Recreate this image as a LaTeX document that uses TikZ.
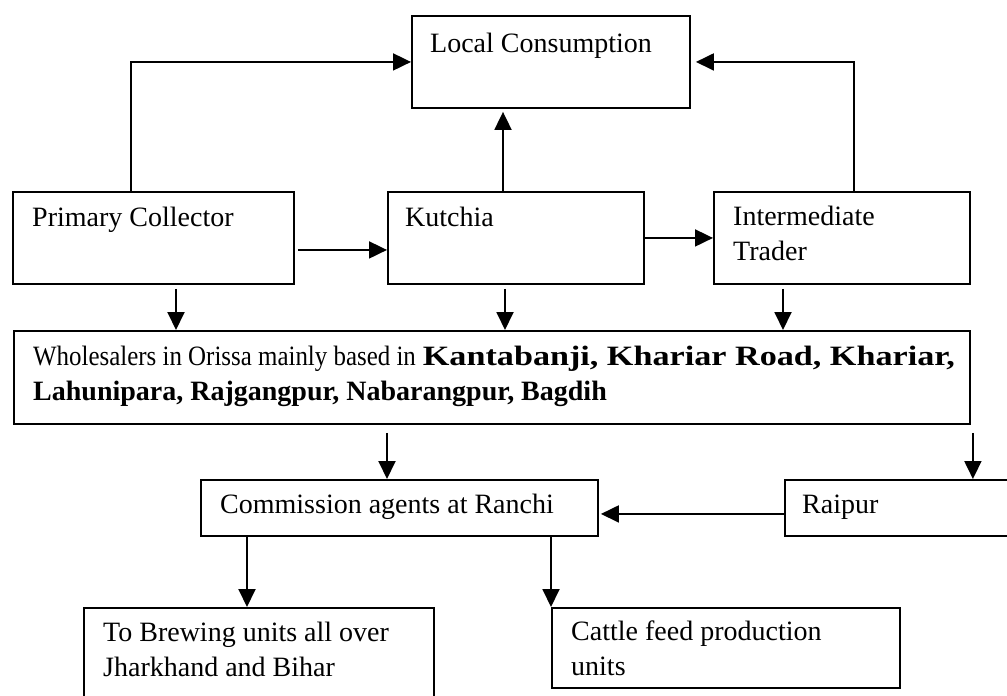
\documentclass[tikz,border=0pt]{standalone}
\usepackage{fontspec}
\setmainfont{Liberation Serif}
\usetikzlibrary{arrows.meta}

\begin{document}
\begin{tikzpicture}
      [ x = 1pt, y = -1pt
      , stage/.style =
        { draw, line width = 1.9pt, inner sep = 0pt, anchor = north west }
      , caption/.style =
        { anchor = base west, inner sep = 0pt, align = left
        , font = \fontsize{28}{35}\selectfont }
      , flow/.style =
        { line width = 1.9pt, -{Triangle[length = 18pt, width = 17pt]} }
      ]
      \useasboundingbox (0, 0) rectangle (1007, 696);
      % boxes
      \node [stage, minimum width = 278pt, minimum height = 92pt] (local) at (411, 15) {};
      \node [stage, minimum width = 281pt, minimum height = 92pt] (primary) at (12, 191) {};
      \node [stage, minimum width = 256pt, minimum height = 92pt] (kutchia) at (387, 191) {};
      \node [stage, minimum width = 256pt, minimum height = 92pt] (trader) at (713, 191) {};
      \node [stage, minimum width = 956pt, minimum height = 93pt] (whole) at (13, 330) {};
      \node [stage, minimum width = 397pt, minimum height = 56pt] (agents) at (200, 479) {};
      \node [stage, minimum width = 260pt, minimum height = 56pt] (raipur) at (784, 479) {};
      \node [stage, minimum width = 350pt, minimum height = 100pt] (brew) at (83, 607) {};
      \node [stage, minimum width = 348pt, minimum height = 80pt] (cattle) at (551, 607) {};
      % texts (base = last line)
      \node [caption] (local-t) at (430, 52) {Local Consumption};
      \node [caption] (primary-t) at (32, 226) {Primary Collector};
      \node [caption] (kutchia-t) at (405, 226) {Kutchia};
      \node [caption] (trader-t) at (733, 260) {Intermediate\\Trader};
      \node [caption] (whole-t) at (33, 400)
        {\scalebox{0.89}[1]{Wholesalers in Orissa mainly based in} \scalebox{1.22}[1]{\textbf{Kantabanji, Khariar Road, Khariar,}}\\
         \textbf{Lahunipara, Rajgangpur, Nabarangpur, Bagdih}};
      \node [caption] (agents-t) at (220, 513) {Commission agents at Ranchi};
      \node [caption] (raipur-t) at (802, 513) {Raipur};
      \node [caption] (brew-t) at (103, 676) {To Brewing units all over\\Jharkhand and Bihar};
      \node [caption] (cattle-t) at (571, 675) {Cattle feed production\\units};
      % connectors
      \coordinate (p-up) at ([xshift = 119pt] primary.north west);
      \coordinate (t-up) at ([xshift = 141pt] trader.north west);
      \coordinate (k-up) at ([xshift = 116pt] kutchia.north west);
      \coordinate (p-out) at ([xshift = 3pt, yshift = -12pt] primary.east);
      \coordinate (p-down) at ([xshift = 164pt, yshift = -4pt] primary.south west);
      \coordinate (k-down) at ([xshift = 118pt, yshift = -4pt] kutchia.south west);
      \coordinate (t-down) at ([xshift = 70pt, yshift = -4pt] trader.south west);
      \coordinate (w-left) at ([xshift = 374pt, yshift = -8pt] whole.south west);
      \coordinate (w-right) at ([xshift = 2pt, yshift = -8pt] whole.south east);
      \coordinate (r-out) at ([yshift = -6pt] raipur.west);
      \coordinate (a-left) at ([xshift = 47pt] agents.south west);
      \draw [flow] (p-up) |- (local.west);
      \draw [flow, shorten > = 5pt] (t-up) |- (local.east);
      \draw [flow, shorten > = 3pt] (k-up) -- (k-up |- local.south);
      \draw [flow] (p-out) -- (p-out -| kutchia.west);
      \draw [flow] (kutchia.east) -- (trader.west);
      \draw [flow] (p-down) -- (p-down |- whole.north);
      \draw [flow] (k-down) -- (k-down |- whole.north);
      \draw [flow] (t-down) -- (t-down |- whole.north);
      \draw [flow] (w-left) -- (w-left |- agents.north);
      \draw [flow] (w-right) -- (w-right |- raipur.north);
      \draw [flow, shorten > = 2pt] (r-out) -- (r-out -| agents.east);
      \draw [flow] (a-left) -- (a-left |- brew.north);
      \draw [flow] (cattle.north west |- agents.south) -- (cattle.north west);
\end{tikzpicture}
\end{document}
